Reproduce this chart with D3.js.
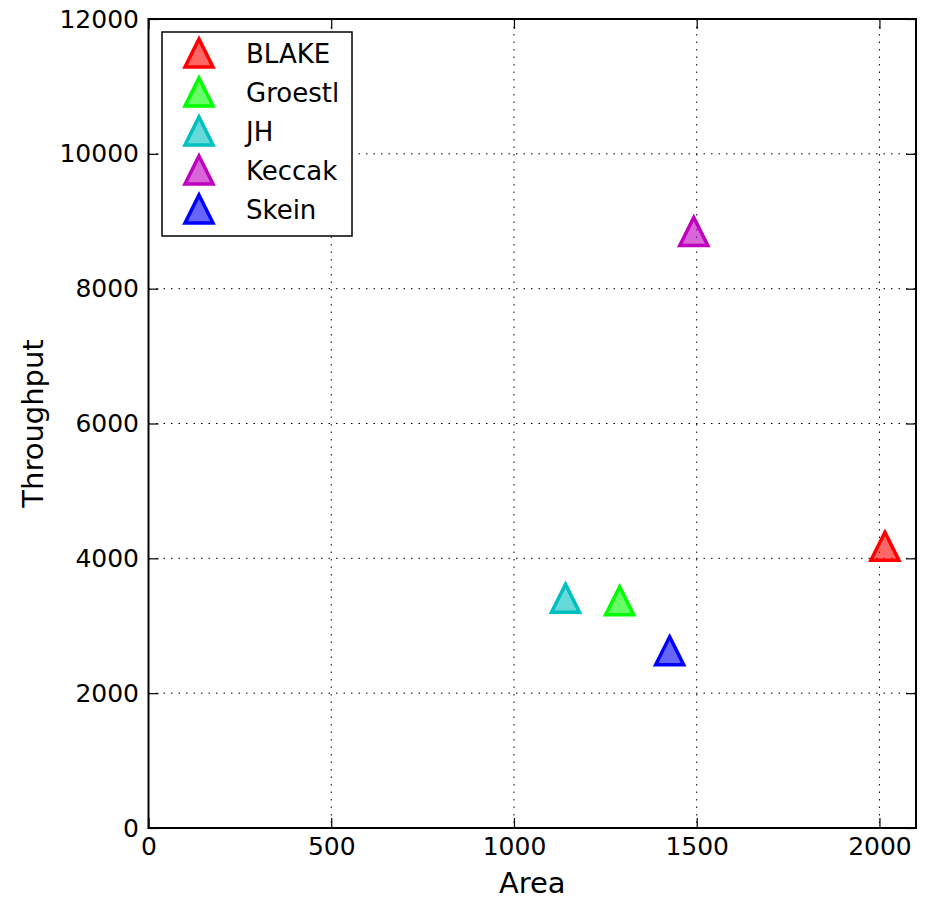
<!DOCTYPE html>
<html lang="en">
  <head>
      <meta charset="utf-8">
      <title>Throughput vs Area</title>
      <script type="text/javascript" src="https://cdn.jsdelivr.net/npm/d3@7"></script>
      <style>
        body { margin: 0; background: #fff; }
        text { font-family: "DejaVu Sans", sans-serif; }
      </style>
  </head>
  <body>
      <script type="text/javascript">

      // data
      var names = ["BLAKE", "Groestl", "JH", "Keccak", "Skein"];
      var area = [2015, 1289, 1141, 1492, 1426];
      var throughput = [4178, 3370, 3407, 8848, 2628];
      var colors = ["#ff0000", "#00ff00", "#00bfbf", "#bf00bf", "#0000ff"];
      var xTicks = [0, 500, 1000, 1500, 2000];
      var yTicks = [0, 2000, 4000, 6000, 8000, 10000, 12000];

      var w = 930;
      var h = 899;
      var pLeft = 148.5, pRight = 916, pTop = 19, pBottom = 828;

      var svg = d3.select("body").append("svg").attr("width", w).attr("height", h);

      var x = d3.scaleLinear().domain([0, 2100]).range([pLeft, pRight]);
      var y = d3.scaleLinear().domain([0, 12000]).range([pBottom, pTop]);

      // Grid
      var grid = svg.append("g").attr("stroke", "#000").attr("stroke-width", 1)
        .attr("stroke-dasharray", "1.5,6");
      grid.selectAll(".gx").data(xTicks.filter(function(d){ return d > 0; })).enter().append("line")
        .attr("x1", function(d){ return x(d); }).attr("x2", function(d){ return x(d); })
        .attr("y1", pTop).attr("y2", pBottom);
      grid.selectAll(".gy").data(yTicks.filter(function(d){ return d > 0 && d < 12000; })).enter().append("line")
        .attr("y1", function(d){ return y(d); }).attr("y2", function(d){ return y(d); })
        .attr("x1", pLeft).attr("x2", pRight);

      // Axes with inward ticks
      function styleAxis(g) {
        g.select(".domain").remove();
        g.selectAll(".tick line").attr("stroke", "#000").attr("stroke-width", 1.2);
        g.selectAll(".tick text").attr("font-size", "25px").attr("fill", "#000")
          .attr("font-family", "DejaVu Sans, sans-serif");
      }

      svg.append("g").attr("transform", "translate(0," + pBottom + ")")
        .call(d3.axisBottom(x).tickValues(xTicks).tickSize(-10).tickPadding(9).tickFormat(d3.format("d")))
        .call(styleAxis);
      svg.append("g").attr("transform", "translate(0," + pTop + ")")
        .call(d3.axisTop(x).tickValues(xTicks).tickSize(-10).tickFormat(""))
        .call(styleAxis);
      svg.append("g").attr("transform", "translate(" + pLeft + ",0)")
        .call(d3.axisLeft(y).tickValues(yTicks).tickSize(-10).tickPadding(9.5).tickFormat(d3.format("d")))
        .call(styleAxis);
      svg.append("g").attr("transform", "translate(" + pRight + ",0)")
        .call(d3.axisRight(y).tickValues(yTicks).tickSize(-10).tickFormat(""))
        .call(styleAxis);

      // Frame
      svg.append("rect").attr("x", pLeft).attr("y", pTop)
        .attr("width", pRight - pLeft).attr("height", pBottom - pTop)
        .attr("fill", "none").attr("stroke", "#000").attr("stroke-width", 2);

      // Triangle marker
      var s = 14;
      var tri = "M0," + (-s) + "L" + s + "," + s + "L" + (-s) + "," + s + "Z";

      svg.selectAll(".pt").data(names).enter().append("path")
        .attr("d", tri)
        .attr("transform", function(d, i){ return "translate(" + x(area[i]) + "," + y(throughput[i]) + ")"; })
        .attr("fill", function(d, i){ return colors[i]; }).attr("fill-opacity", 0.6)
        .attr("stroke", function(d, i){ return colors[i]; }).attr("stroke-width", 3.5)
        .attr("stroke-linejoin", "miter");

      // Legend
      var lg = svg.append("g");
      lg.append("rect").attr("x", 162).attr("y", 32).attr("width", 190).attr("height", 204)
        .attr("fill", "#fff").attr("stroke", "#000").attr("stroke-width", 1.5);
      names.forEach(function(d, i){
        var ly = 53 + i * 39;
        lg.append("path").attr("d", tri)
          .attr("transform", "translate(199," + ly + ")")
          .attr("fill", colors[i]).attr("fill-opacity", 0.6)
          .attr("stroke", colors[i]).attr("stroke-width", 3.5);
        lg.append("text").text(d).attr("x", 246).attr("y", ly + 9.5)
          .attr("font-size", "26px").attr("fill", "#000");
      });

      // Axis labels
      svg.append("text").text("Area").attr("x", (pLeft + pRight) / 2).attr("y", 893)
        .attr("text-anchor", "middle").attr("font-size", "29px").attr("fill", "#000");
      svg.append("text").text("Throughput")
        .attr("transform", "translate(43," + (pTop + pBottom) / 2 + ") rotate(-90)")
        .attr("text-anchor", "middle").attr("font-size", "29px").attr("fill", "#000");

      </script>
  </body>
</html>
